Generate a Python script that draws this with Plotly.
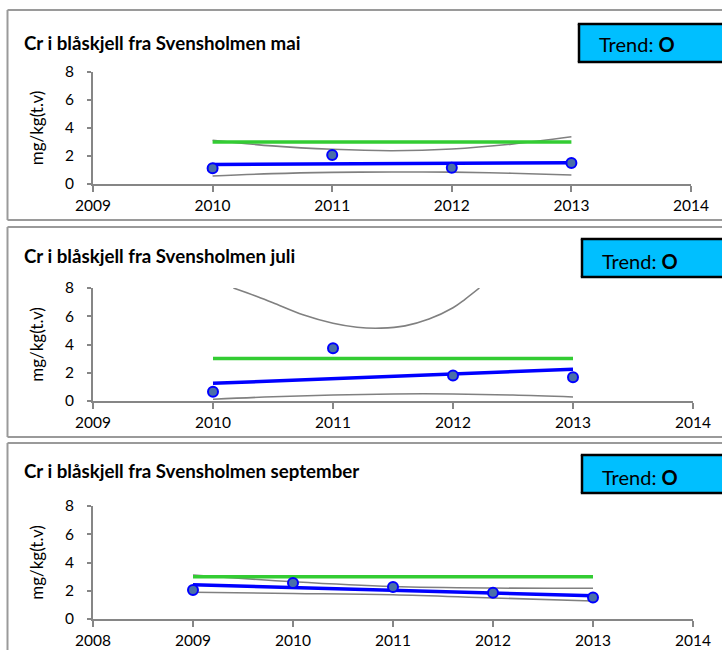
import plotly.graph_objects as go

W, H = 722, 650

# ---------------- data ----------------
titles = ["Cr i blåskjell fra Svensholmen mai",
          "Cr i blåskjell fra Svensholmen juli",
          "Cr i blåskjell fra Svensholmen september"]

# Panel 1 (mai)
mai_years = [2010, 2011, 2012, 2013]
mai_values = [1.12, 2.07, 1.16, 1.50]
mai_trend = [1.40, 1.44, 1.48, 1.52]
mai_ci_x = [2010, 2010.5, 2011, 2011.5, 2012, 2012.5, 2013]
mai_ci_upper = [3.13, 2.72, 2.48, 2.38, 2.50, 2.85, 3.37]
mai_ci_lower = [0.57, 0.74, 0.83, 0.86, 0.85, 0.77, 0.64]

# Panel 2 (juli)
juli_years = [2010, 2011, 2012, 2013]
juli_values = [0.66, 3.74, 1.80, 1.68]
juli_trend = [1.25, 1.58, 1.92, 2.25]
juli_up_x = [2010.17, 2010.35, 2010.5, 2010.75, 2011, 2011.2, 2011.4, 2011.6, 2011.8, 2012, 2012.1, 2012.22]
juli_ci_upper = [8.0, 7.45, 6.95, 6.10, 5.50, 5.22, 5.16, 5.32, 5.80, 6.60, 7.20, 8.0]
juli_lo_x = [2010, 2010.5, 2011, 2011.5, 2012, 2012.5, 2013]
juli_ci_lower = [0.12, 0.30, 0.42, 0.50, 0.50, 0.42, 0.28]

# Panel 3 (september)
sep_years = [2009, 2010, 2011, 2012, 2013]
sep_values = [2.05, 2.55, 2.26, 1.86, 1.53]
sep_trend = [2.42, 2.22, 2.03, 1.84, 1.65]
sep_ci_upper = [3.12, 2.64, 2.30, 2.19, 2.18]
sep_ci_lower = [1.89, 1.81, 1.72, 1.49, 1.27]

limit_value = 3.0  # green reference line

x_ranges = [[2009, 2014], [2009, 2014], [2008, 2014]]
x_ticks = [[2009, 2010, 2011, 2012, 2013, 2014],
           [2009, 2010, 2011, 2012, 2013, 2014],
           [2008, 2009, 2010, 2011, 2012, 2013, 2014]]
y_ticks = [0, 2, 4, 6, 8]
trend_label = "Trend: <b>O</b>"

# ---------------- style ----------------
FONT = "Lato"
AXIS_COL = "#868686"
BLUE = "#0000FF"
GREEN = "#33CC33"
GREY = "#808080"
MARK_FILL = "#4A6FA8"
FRAME_COL = "#9A9A9A"

def px_x(v):
    return v / W

def px_y(v):
    return 1 - v / H

# axis pixel geometry for each panel: (x_left, x_right, y_zero, y_top)
geo = [(93, 691, 184, 72), (93, 693, 401, 288), (93, 693, 619, 506)]
# panel frames (top, bottom or None)
frames = [(10, 220), (227, 437), (443, None)]
boxes = [(579, 24, 62, 44), (582, 239, 277, 261), (582, 455, 493, 477)]
title_y = [43, 256, 471]

fig = go.Figure()

panels = [
    (mai_years, mai_values, mai_trend, [(mai_ci_x, mai_ci_upper), (mai_ci_x, mai_ci_lower)]),
    (juli_years, juli_values, juli_trend, [(juli_up_x, juli_ci_upper), (juli_lo_x, juli_ci_lower)]),
    (sep_years, sep_values, sep_trend, [(sep_years, sep_ci_upper), (sep_years, sep_ci_lower)]),
]

def hline(x0, x1, y, col, w):
    return dict(type="line", xref="paper", yref="paper", x0=px_x(x0), x1=px_x(x1),
                y0=px_y(y), y1=px_y(y), line=dict(color=col, width=w))

def vline(x, y0, y1, col, w):
    return dict(type="line", xref="paper", yref="paper", x0=px_x(x), x1=px_x(x),
                y0=px_y(y0), y1=px_y(y1), line=dict(color=col, width=w))

shapes = []
annotations = []
for i, (yrs, vals, trend, cis) in enumerate(panels):
    n = "" if i == 0 else str(i + 1)
    xa, ya = "x" + n, "y" + n
    for cx, cy in cis:
        fig.add_trace(go.Scatter(x=cx, y=cy, mode="lines", line=dict(color=GREY, width=1.6, shape="spline"),
                                 xaxis=xa, yaxis=ya, showlegend=False, hoverinfo="skip"))
    fig.add_trace(go.Scatter(x=[yrs[0], yrs[-1]], y=[limit_value, limit_value], mode="lines",
                             line=dict(color=GREEN, width=3.5), xaxis=xa, yaxis=ya, showlegend=False))
    fig.add_trace(go.Scatter(x=yrs, y=trend, mode="lines", line=dict(color=BLUE, width=3.5),
                             xaxis=xa, yaxis=ya, showlegend=False))
    fig.add_trace(go.Scatter(x=yrs, y=vals, mode="markers",
                             marker=dict(size=10, color=MARK_FILL, line=dict(color=BLUE, width=2)),
                             xaxis=xa, yaxis=ya, showlegend=False))

    xl, xr, y0, y8 = geo[i]
    axis_common = dict(showgrid=False, zeroline=False, showline=True, linecolor=AXIS_COL, linewidth=2,
                       ticks="outside", tickcolor=AXIS_COL, tickwidth=1.5, automargin=False,
                       tickfont=dict(family=FONT, size=15.5, color="#000000"), fixedrange=True)
    fig.update_layout(**{
        "xaxis" + n: dict(axis_common, domain=[px_x(xl), px_x(xr)], range=x_ranges[i],
                          tickvals=x_ticks[i], ticktext=[str(t) for t in x_ticks[i]],
                          ticklen=6, anchor=ya, ticklabelstandoff=0),
        "yaxis" + n: dict(axis_common, domain=[px_y(y0), px_y(y8)], range=[0, 8],
                          tickvals=y_ticks, ticklen=4, anchor=xa, ticklabelstandoff=10,
                          title=dict(text="mg/kg(t.v)", font=dict(family=FONT, size=17, color="#000000"),
                                     standoff=17)),
    })

    ft, fb = frames[i]
    shapes.append(hline(7.5, W, ft, FRAME_COL, 2))
    shapes.append(vline(7.5, ft, fb if fb is not None else H, FRAME_COL, 2))
    if fb is not None:
        shapes.append(hline(7.5, W, fb, FRAME_COL, 2))
    bl, bt, bb, ty = boxes[i]
    shapes.append(dict(type="rect", xref="paper", yref="paper", x0=px_x(bl), x1=1,
                       y0=px_y(bb), y1=px_y(bt), fillcolor="#00BFFF", line=dict(width=0)))
    shapes.append(hline(bl - 1.2, W, bt, "#000000", 2.5))
    shapes.append(hline(bl - 1.2, W, bb, "#000000", 2.5))
    shapes.append(vline(bl, bt, bb, "#000000", 2.5))
    annotations.append(dict(text=trend_label, xref="paper", yref="paper", x=px_x(bl + 18), y=px_y(ty),
                            xanchor="left", yanchor="middle", showarrow=False,
                            font=dict(family=FONT, size=20, color="#000000")))
    annotations.append(dict(text="<b>" + titles[i] + "</b>", xref="paper", yref="paper", x=px_x(22),
                            y=px_y(title_y[i]), xanchor="left", yanchor="middle", showarrow=False,
                            font=dict(family=FONT, size=18.7, color="#000000")))

fig.update_layout(width=W, height=H, autosize=False, margin=dict(l=0, r=0, t=0, b=0),
                  paper_bgcolor="white", plot_bgcolor="white",
                  shapes=shapes, annotations=annotations, showlegend=False)

fig.write_html("out.html", config={"displayModeBar": False, "responsive": False},
               post_script="document.body.style.margin='0px';document.body.style.overflow='hidden';"
                           "document.documentElement.style.overflow='hidden';")
